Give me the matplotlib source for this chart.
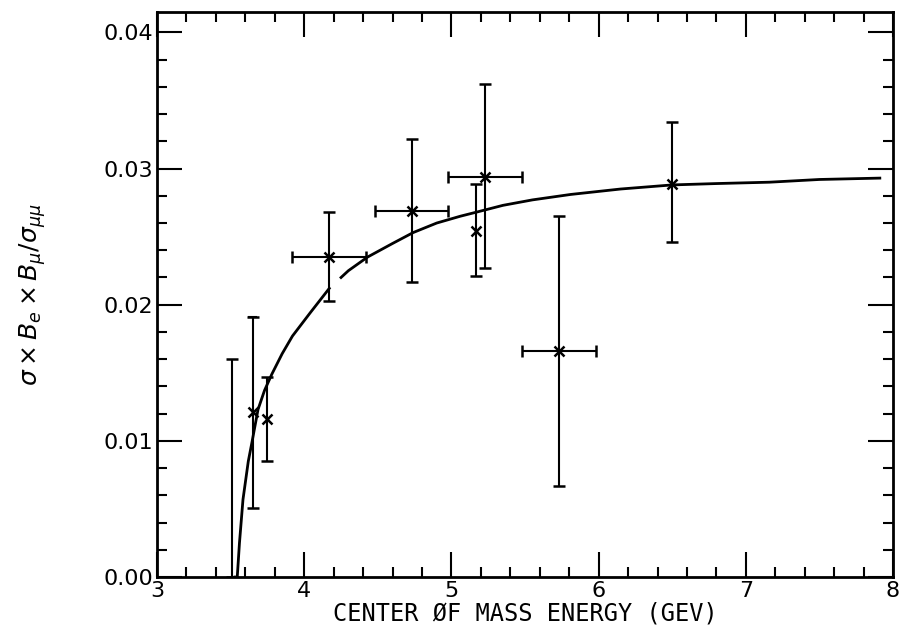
import numpy as np
import matplotlib
matplotlib.use("Agg")
import matplotlib.pyplot as plt
from matplotlib.ticker import MultipleLocator

# measured points (energy in GeV, ratio)
pt_x = [3.51, 3.65, 3.75, 4.17, 4.73, 5.17, 5.23, 5.73, 6.50]
pt_y = [0.0, 0.0121, 0.0116, 0.0235, 0.0269, 0.0254, 0.0294, 0.0166, 0.0289]
err_lo = [0.0, 0.0070, 0.0031, 0.0032, 0.0052, 0.0033, 0.0067, 0.0099, 0.0043]
err_hi = [0.0160, 0.0070, 0.0031, 0.0033, 0.0053, 0.0035, 0.0068, 0.0099, 0.0045]
x_err = [0.0, 0.0, 0.0, 0.25, 0.25, 0.0, 0.25, 0.25, 0.0]
has_marker = [False, True, True, True, True, True, True, True, True]

# extra cap drawn above the 3.65 point
extra_cap_x = 3.65
extra_cap_y = 0.0191

# theory curve (drawn in two pieces, as in the original)
curve1_x = [3.53, 3.545, 3.56, 3.584, 3.62, 3.645, 3.686, 3.73, 3.78, 3.85,
            3.92, 4.04, 4.17]
curve1_y = [0.0, 0.0, 0.0025, 0.0057, 0.0085, 0.0099, 0.0123, 0.0137, 0.0149, 0.0164,
            0.0177, 0.0194, 0.0212]
curve2_x = [4.25, 4.30, 4.43, 4.60, 4.74, 4.90, 5.06, 5.17,
            5.35, 5.55, 5.81, 6.15, 6.50, 6.80, 7.16, 7.50, 7.91]
curve2_y = [0.0220, 0.0225, 0.0235, 0.0245, 0.0253, 0.0260, 0.0265, 0.0268,
            0.0273, 0.0277, 0.0281, 0.0285, 0.0288, 0.0289, 0.0290, 0.0292, 0.0293]

fig = plt.figure(figsize=(9.04, 6.39), dpi=100)
ax = fig.add_axes([0.1737, 0.0970, 0.8142, 0.8842])

ax.plot(curve1_x, curve1_y, color='black', lw=2.0)
ax.plot(curve2_x, curve2_y, color='black', lw=2.0)

for i in range(len(pt_x)):
    ax.errorbar(pt_x[i], pt_y[i],
                yerr=[[err_lo[i]], [err_hi[i]]],
                xerr=x_err[i] if x_err[i] > 0 else None,
                fmt='x' if has_marker[i] else 'none',
                color='black', ms=7, mew=1.8, elinewidth=1.5,
                capsize=4, capthick=1.5)

ax.plot([extra_cap_x - 0.025, extra_cap_x + 0.025], [extra_cap_y, extra_cap_y],
        color='black', lw=1.5)

ax.set_xlim(3, 8)
ax.set_ylim(0, 0.0415)
ax.set_xticks([3, 4, 5, 6, 7, 8])
ax.set_yticks([0.0, 0.01, 0.02, 0.03, 0.04])
ax.set_yticklabels(['0.00', '0.01', '0.02', '0.03', '0.04'])
ax.xaxis.set_minor_locator(MultipleLocator(0.2))
ax.yaxis.set_minor_locator(MultipleLocator(0.002))
ax.tick_params(which='both', direction='in', top=True, right=True,
               labelsize=16, width=1.5, colors='black')
ax.tick_params(which='major', length=18, pad=3)
ax.tick_params(which='minor', length=7)

for s in ax.spines.values():
    s.set_linewidth(2.0)

ax.set_xlabel('CENTER ØF MASS ENERGY (GEV)', fontsize=17,
              family='DejaVu Sans Mono', labelpad=0)
ax.set_ylabel(r'$\sigma\times B_e\times B_\mu/\sigma_{\mu\mu}$', fontsize=18, labelpad=40)

fig.savefig('out.png', dpi=100)
